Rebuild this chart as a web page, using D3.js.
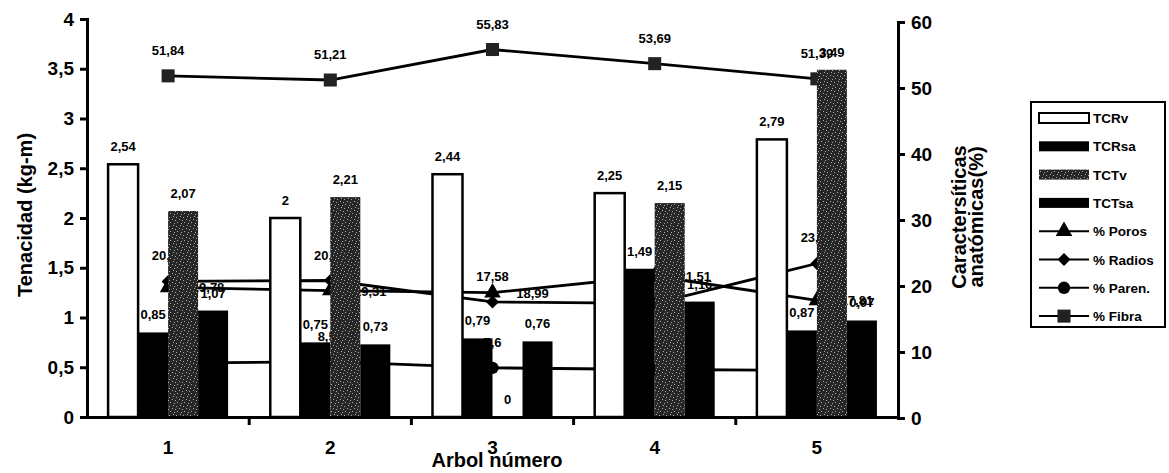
<!DOCTYPE html>
<meta charset="utf-8">
<head>
  <title>Tenacidad y características anatómicas</title>
  <style>
    body { margin: 0; background: #fff; }
    text { font-family: "Liberation Sans", Arial, sans-serif; font-weight: bold; fill: #000; }
  </style>
</head>
<body>
<script src="https://d3js.org/d3.v7.min.js"></script>
<script>
var WIDTH = 1169,
    HEIGHT = 473;

// data
var arboles = ["1", "2", "3", "4", "5"];
var barSeries = ["TCRv", "TCRsa", "TCTv", "TCTsa"];
var TCRv  = [2.54, 2, 2.44, 2.25, 2.79];
var TCRsa = [0.85, 0.75, 0.79, 1.49, 0.87];
var TCTv  = [2.07, 2.21, 0, 2.15, 3.49];
var TCTsa = [1.07, 0.73, 0.76, 1.16, 0.97];
var poros  = [19.78, 19.31, 18.99, 21.51, 17.81];
var radios = [20.69, 20.83, 17.58, 17.37, 23.41];
var paren  = [8.31, 8.54, 7.6, 7.35, 7.2];
var fibra  = [51.84, 51.21, 55.83, 53.69, 51.39];
var leftTicks = [0, 0.5, 1, 1.5, 2, 2.5, 3, 3.5, 4];
var rightTicks = [0, 10, 20, 30, 40, 50, 60];

var barValues = [TCRv, TCRsa, TCTv, TCTsa];
var lineSeries = [
  {name: "% Poros", values: poros, marker: "triangle", label: "right"},
  {name: "% Radios", values: radios, marker: "diamond", label: "above"},
  {name: "% Paren.", values: paren, marker: "circle", label: "above"},
  {name: "% Fibra", values: fibra, marker: "square", label: "above"}
];

function fmt(v) { return String(v).replace(".", ","); }

var svg = d3.select("body").append("svg")
    .attr("width", WIDTH)
    .attr("height", HEIGHT);

var defs = svg.append("defs");
var pat = defs.append("pattern")
    .attr("id", "speckle")
    .attr("patternUnits", "userSpaceOnUse")
    .attr("width", 7).attr("height", 9);
pat.append("rect").attr("width", 7).attr("height", 9).attr("fill", "#262626");
[[1, 1], [4, 3], [2, 6], [6, 7], [5, 0], [0, 4]].forEach(function(p) {
  pat.append("rect").attr("x", p[0]).attr("y", p[1])
    .attr("width", 1).attr("height", 1).attr("fill", "#aaa");
});

var fills = ["#fff", "#000", "url(#speckle)", "#000"];

var left = 87, right = 898, bottom = 417;

var x = d3.scaleBand().domain(arboles).range([left, right]).paddingInner(0.26).paddingOuter(0.13);
var xc = d3.scaleBand().domain(arboles).range([left, right]);
var xs = d3.scaleBand().domain(barSeries).range([0, x.bandwidth()]);
var y = d3.scaleLinear().domain([0, 4]).range([bottom, 19]);
var y2 = d3.scaleLinear().domain([0, 60]).range([418, 22]);

// lines (drawn under the bars, as in the original)
var line = d3.line()
    .x(function(d, i) { return xc(arboles[i]) + xc.bandwidth() / 2; })
    .y(function(d) { return y2(d); });

var sym = {
  triangle: d3.symbol().type(d3.symbolTriangle).size(120),
  diamond: d3.symbol().type(d3.symbolSquare).size(85),
  circle: d3.symbol().type(d3.symbolCircle).size(120),
  square: d3.symbol().type(d3.symbolSquare).size(170)
};
var rot = {triangle: 0, diamond: 45, circle: 0, square: 0};

lineSeries.forEach(function(s) {
  svg.append("path")
    .attr("d", line(s.values))
    .attr("fill", "none")
    .attr("stroke", "#000")
    .attr("stroke-width", 2.8);

  s.values.forEach(function(v, i) {
    var cx = xc(arboles[i]) + xc.bandwidth() / 2, cy = y2(v);
    svg.append("path")
      .attr("d", sym[s.marker]())
      .attr("transform", "translate(" + cx + "," + cy + ") rotate(" + rot[s.marker] + ")")
      .attr("fill", s.marker == "square" ? "#222" : "#000");
    svg.append("text")
      .attr("x", s.label == "right" ? cx + 40 : cx)
      .attr("y", s.label == "right" ? cy + 5 : cy - 21)
      .attr("text-anchor", "middle")
      .style("font-size", "13px")
      .text(fmt(v));
  });
});

// bars
barValues.forEach(function(vals, k) {
  svg.selectAll(".bar" + k)
    .data(vals)
    .enter().append("rect")
      .attr("x", function(d, i) { return x(arboles[i]) + xs(barSeries[k]); })
      .attr("y", function(d) { return y(d); })
      .attr("width", xs.bandwidth())
      .attr("height", function(d) { return bottom - y(d); })
      .attr("fill", fills[k])
      .attr("stroke", k == 0 ? "#000" : "none")
      .attr("stroke-width", 2.5);
});

barValues.forEach(function(vals, k) {
  svg.selectAll(".lab" + k)
    .data(vals)
    .enter().append("text")
      .attr("x", function(d, i) { return x(arboles[i]) + xs(barSeries[k]) + xs.bandwidth() / 2; })
      .attr("y", function(d) { return y(d) - 13; })
      .attr("text-anchor", "middle")
      .style("font-size", "13px")
      .text(function(d) { return fmt(d); });
});

// axes
var axL = svg.append("g")
    .attr("transform", "translate(" + left + ",0)")
    .call(d3.axisLeft(y).tickValues(leftTicks).tickSize(7).tickFormat(fmt));
var axR = svg.append("g")
    .attr("transform", "translate(" + right + ",0)")
    .call(d3.axisRight(y2).tickValues(rightTicks).tickSize(7));
var axB = svg.append("g")
    .attr("transform", "translate(0," + bottom + ")")
    .call(d3.axisBottom(xc).tickSize(0).tickPadding(24));

[axL, axR].forEach(function(a) {
  a.select(".domain").attr("stroke-width", 3);
  a.selectAll(".tick line").attr("stroke-width", 3);
  a.selectAll(".tick text").style("font-size", "19px").style("font-family", "Liberation Sans, Arial, sans-serif");
});
axL.selectAll(".tick text").attr("x", -13);
axR.selectAll(".tick text").attr("x", 13);
axB.select(".domain").attr("stroke-width", 3);
axB.selectAll(".tick text").style("font-size", "19px").style("font-family", "Liberation Sans, Arial, sans-serif");

// category boundary ticks on the x axis
svg.selectAll(".xt")
  .data(arboles.slice(1))
  .enter().append("line")
    .attr("x1", function(d) { return xc(d); })
    .attr("x2", function(d) { return xc(d); })
    .attr("y1", bottom)
    .attr("y2", bottom + 8)
    .attr("stroke", "#000")
    .attr("stroke-width", 3);

// titles
svg.append("text")
  .attr("x", 497).attr("y", 467)
  .attr("text-anchor", "middle")
  .style("font-size", "20px")
  .text("Arbol número");

svg.append("text")
  .attr("transform", "translate(32,215) rotate(-90)")
  .attr("text-anchor", "middle")
  .style("font-size", "20px")
  .text("Tenacidad (kg-m)");

svg.append("text")
  .attr("transform", "translate(966,217) rotate(-90)")
  .attr("text-anchor", "middle")
  .style("font-size", "20px")
  .text("Caractersíticas");
svg.append("text")
  .attr("transform", "translate(983,217) rotate(-90)")
  .attr("text-anchor", "middle")
  .style("font-size", "20px")
  .text("anatómicas(%)");

// legend
var lg = svg.append("g").attr("transform", "translate(1031,102)");
lg.append("rect")
  .attr("width", 134).attr("height", 225)
  .attr("fill", "#fff").attr("stroke", "#000").attr("stroke-width", 2);

barSeries.forEach(function(name, k) {
  var ly = 16 + k * 28.3;
  lg.append("rect")
    .attr("x", 8).attr("y", ly - 5)
    .attr("width", 50).attr("height", 10)
    .attr("fill", fills[k])
    .attr("stroke", k == 0 ? "#000" : "none")
    .attr("stroke-width", 2);
  lg.append("text").attr("x", 62).attr("y", ly + 5)
    .style("font-size", "13.5px").text(name);
});
lineSeries.forEach(function(s, j) {
  var ly = 16 + (j + 4) * 28.3;
  lg.append("line")
    .attr("x1", 8).attr("x2", 58).attr("y1", ly).attr("y2", ly)
    .attr("stroke", "#000").attr("stroke-width", 2);
  lg.append("path")
    .attr("d", sym[s.marker]())
    .attr("transform", "translate(33," + ly + ") rotate(" + rot[s.marker] + ")")
    .attr("fill", s.marker == "square" ? "#222" : "#000");
  lg.append("text").attr("x", 62).attr("y", ly + 5)
    .style("font-size", "13.5px").text(s.name);
});
</script>
